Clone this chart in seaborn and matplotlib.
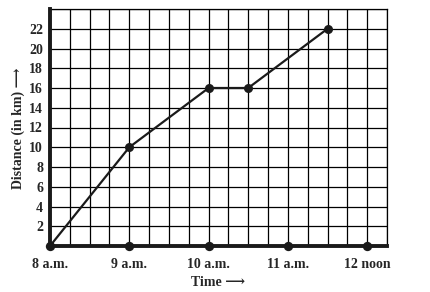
import matplotlib
matplotlib.use("Agg")
import matplotlib.pyplot as plt
import seaborn as sns
import pandas as pd
from matplotlib.ticker import MultipleLocator

sns.set_style("white")
plt.rcParams['font.family'] = ['Liberation Serif', 'DejaVu Serif', 'DejaVu Sans']

# data (time in hours, distance in km)
times = [8, 9, 10, 10.5, 11.5]
distance = [0, 10, 16, 16, 22]
axis_times = [8, 9, 10, 11, 12]
axis_zero = [0, 0, 0, 0, 0]
tick_labels = ["8 a.m.", "9 a.m.", "10 a.m.", "11 a.m.", "12 noon"]
y_ticks = [2, 4, 6, 8, 10, 12, 14, 16, 18, 20, 22]

df = pd.DataFrame({"time": times, "distance": distance})
dfa = pd.DataFrame({"time": axis_times, "distance": axis_zero})

fig = plt.figure(figsize=(4.3, 2.92), dpi=100)
ax = fig.add_axes([50/430, 46/292, 337/430, 237/292])

ax.set_xlim(8, 12.25)
ax.set_ylim(0, 24)
ax.xaxis.set_major_locator(MultipleLocator(1))
ax.xaxis.set_minor_locator(MultipleLocator(0.25))
ax.yaxis.set_major_locator(MultipleLocator(2))
ax.grid(which='both', color='black', linewidth=0.9)
ax.set_axisbelow(True)

sns.lineplot(data=df, x="time", y="distance", ax=ax, color="#1a1a1a",
             linewidth=1.6, marker='o', markersize=6.5, markeredgewidth=0, zorder=5)
sns.scatterplot(data=dfa, x="time", y="distance", ax=ax, color="#1a1a1a",
                s=45, linewidth=0, zorder=6, clip_on=False)

ax.set_xticks(axis_times)
ax.set_xticklabels(tick_labels, fontsize=10, fontweight='bold')
ax.set_yticks([0] + y_ticks + [24])
ax.set_yticklabels([""] + [str(v) for v in y_ticks] + [""], fontsize=10, fontweight='bold')
ax.tick_params(axis='x', which='both', length=0, pad=9)
ax.tick_params(axis='y', which='both', length=0, pad=5)
ax.set_xlabel("")
ax.set_ylabel("")

for s in ['top', 'right']:
    ax.spines[s].set_linewidth(0.9)
    ax.spines[s].set_color('black')
for s in ['left', 'bottom']:
    ax.spines[s].set_linewidth(2.8)
    ax.spines[s].set_color('#1a1a1a')
    ax.spines[s].set_zorder(4)

fig.text(218/430, 1 - 283/292, "Time \u27f6", ha='center', va='center',
         fontsize=10, fontweight='bold')
fig.text(18/430, 1 - 128/292, "Distance (in km) \u27f6", ha='center', va='center',
         rotation=90, fontsize=10, fontweight='bold')

fig.savefig("out.png", dpi=100)
